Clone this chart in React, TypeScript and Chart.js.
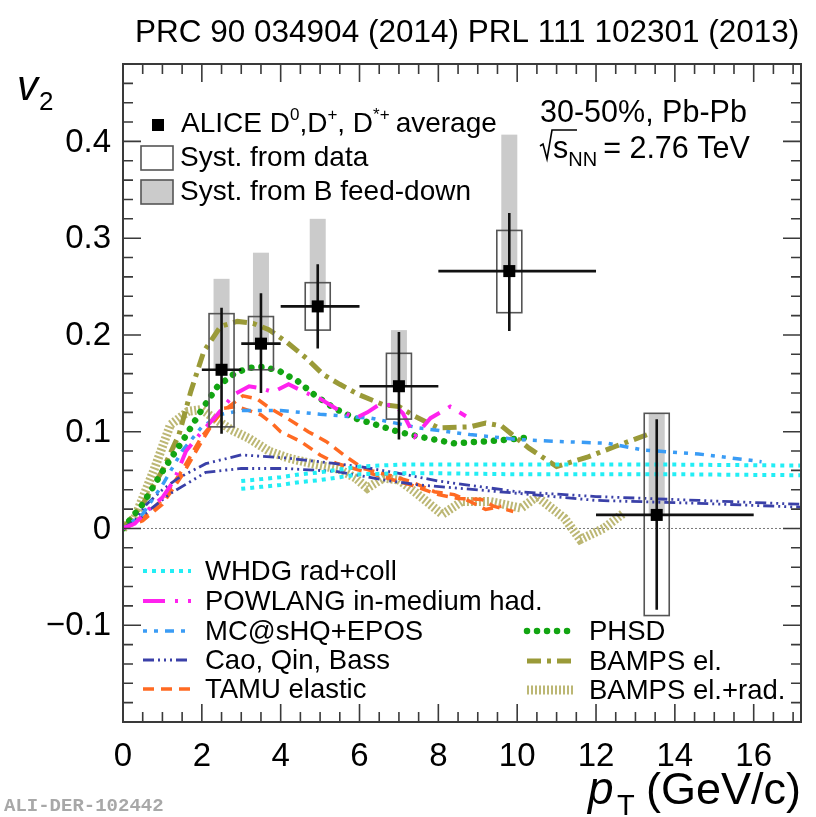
import React, { useEffect, useRef } from "react";
import { Chart, registerables } from "chart.js";

Chart.register(...registerables);

const FONT = '"Liberation Sans", Arial, Helvetica, sans-serif';

// Axis ticks and labels
const xTickValues = [0, 2, 4, 6, 8, 10, 12, 14, 16];
const xTickLabels = ["0", "2", "4", "6", "8", "10", "12", "14", "16"];
const yTickValues = [-0.1, 0, 0.1, 0.2, 0.3, 0.4];
const yTickLabels = ["\u22120.1", "0", "0.1", "0.2", "0.3", "0.4"];

// ALICE D0, D+, D*+ average v2 (30-50%)
const alicePt = [2.5, 3.5, 4.94, 7.0, 9.8, 13.54];
const aliceV2 = [0.164, 0.191, 0.2295, 0.147, 0.266, 0.014];
const alicePtLow = [2, 3, 4, 6, 8, 12];
const alicePtHigh = [3, 4, 6, 8, 12, 16];
const aliceStatHigh = [0.228, 0.243, 0.273, 0.203, 0.326, 0.113];
const aliceStatLow = [0.098, 0.14, 0.186, 0.092, 0.204, -0.084];
const aliceSystHigh = [0.222, 0.219, 0.254, 0.181, 0.308, 0.119];
const aliceSystLow = [0.105, 0.164, 0.205, 0.113, 0.223, -0.09];
const aliceFeedDownHigh = [0.258, 0.285, 0.32, 0.205, 0.407, 0.119];

// Model curves
const whdgUpperPt = [3.0, 3.5, 4.0, 4.5, 5.0, 5.5, 6.0, 7.0, 8.0, 10, 12, 14, 17.2];
const whdgUpperV2 = [0.049, 0.051, 0.053, 0.056, 0.058, 0.061, 0.064, 0.066, 0.066, 0.066, 0.066, 0.066, 0.065];
const whdgLowerPt = [3.0, 3.5, 4.0, 4.5, 5.0, 5.5, 6.0, 7.0, 8.0, 10, 12, 14, 17.2];
const whdgLowerV2 = [0.041, 0.043, 0.045, 0.048, 0.05, 0.053, 0.056, 0.057, 0.057, 0.056, 0.056, 0.056, 0.055];

const powlangPt = [0, 0.3, 0.6, 1.0, 1.3, 1.6, 2.0, 2.4, 2.8, 3.2, 3.5, 3.8, 4.2, 4.6, 5.0, 5.4, 5.9, 6.2, 6.5, 6.9, 7.1, 7.4, 7.8, 8.3, 8.7];
const powlangV2 = [0, 0.005, 0.018, 0.032, 0.05, 0.08, 0.1, 0.118, 0.138, 0.147, 0.145, 0.141, 0.149, 0.141, 0.134, 0.124, 0.114, 0.12, 0.128, 0.127, 0.119, 0.095, 0.114, 0.126, 0.116];

const mcshqPt = [0, 0.5, 1.0, 1.5, 2.0, 2.5, 3.0, 4.0, 5.0, 6.3, 7.5, 8.8, 10, 11, 12.3, 13.2, 14.6, 16.2];
const mcshqV2 = [0, 0.015, 0.045, 0.08, 0.105, 0.118, 0.122, 0.122, 0.118, 0.114, 0.104, 0.097, 0.092, 0.09, 0.088, 0.081, 0.077, 0.069];

const caoUpperPt = [0, 0.3, 0.6, 1.0, 1.4, 2.1, 3.0, 4.1, 5.3, 6.0, 7.0, 8.0, 10, 12, 14.6, 17.2];
const caoUpperV2 = [0, 0.008, 0.025, 0.04, 0.052, 0.067, 0.076, 0.073, 0.0675, 0.064, 0.057, 0.049, 0.038, 0.033, 0.029, 0.025];
const caoLowerPt = [0, 0.3, 0.7, 1.2, 2.1, 3.0, 4.1, 5.4, 6.7, 7.5, 8.4, 10.1, 12, 14.6, 17.2];
const caoLowerV2 = [0, 0.006, 0.02, 0.036, 0.058, 0.062, 0.062, 0.059, 0.0496, 0.045, 0.042, 0.036, 0.029, 0.026, 0.022];

const tamuUpperPt = [0, 0.5, 1.0, 1.5, 2.0, 2.5, 3.04, 3.4, 3.7, 4.2, 4.7, 5.15, 5.7, 6.1, 6.7, 7.3, 7.9, 8.4, 8.8, 9.2, 9.6];
const tamuUpperV2 = [0, 0.01, 0.03, 0.06, 0.095, 0.12, 0.137, 0.134, 0.125, 0.113, 0.1, 0.09, 0.073, 0.062, 0.0555, 0.0486, 0.038, 0.035, 0.028, 0.0196, 0.023];
const tamuLowerPt = [0, 0.5, 1.0, 1.5, 2.0, 2.5, 2.9, 3.5, 3.8, 4.0, 4.5, 5.0, 5.4, 6.1, 6.7, 7.3, 8.0, 8.5, 9.1, 9.4, 9.9];
const tamuLowerV2 = [0, 0.008, 0.025, 0.055, 0.09, 0.124, 0.126, 0.1175, 0.108, 0.1, 0.09, 0.076, 0.0675, 0.059, 0.052, 0.045, 0.035, 0.031, 0.03, 0.023, 0.0176];

const phsdPt = [0, 0.5, 1.0, 1.55, 1.97, 2.4, 2.84, 3.2, 3.6, 4.0, 4.44, 4.86, 5.37, 5.88, 6.4, 6.98, 7.5, 8.4, 9.2, 10.1, 10.4];
const phsdV2 = [0, 0.025, 0.059, 0.093, 0.121, 0.147, 0.1605, 0.166, 0.167, 0.162, 0.152, 0.138, 0.124, 0.114, 0.1075, 0.1, 0.095, 0.088, 0.09, 0.093, 0.095];

const bampsElPt = [0, 0.5, 1.0, 1.42, 1.72, 2.05, 2.48, 2.9, 3.3, 3.7, 4.14, 4.65, 5.08, 5.5, 6.0, 6.6, 7.0, 7.4, 8.0, 8.8, 9.2, 9.6, 10.3, 11.0, 11.8, 12.5, 13.3];
const bampsElV2 = [0, 0.025, 0.06, 0.097, 0.1416, 0.183, 0.209, 0.214, 0.212, 0.2055, 0.193, 0.176, 0.159, 0.149, 0.138, 0.128, 0.126, 0.116, 0.104, 0.105, 0.109, 0.106, 0.083, 0.064, 0.074, 0.085, 0.097];

const bampsRadPt = [0, 0.3, 0.8, 1.2, 1.65, 2.0, 2.3, 2.75, 3.2, 3.7, 4.2, 4.9, 5.5, 5.9, 6.2, 6.6, 7.0, 7.4, 8.1, 8.6, 9.3, 10.1, 10.5, 11.2, 11.6, 12.2, 12.7];
const bampsRadV2 = [0, 0.011, 0.062, 0.107, 0.121, 0.123, 0.114, 0.102, 0.093, 0.08, 0.0727, 0.066, 0.061, 0.052, 0.0417, 0.052, 0.05, 0.038, 0.0145, 0.028, 0.028, 0.021, 0.033, 0.0106, -0.0115, 0.0003, 0.0158];

const pts = (xs: number[], ys: number[]) => xs.map((x, i) => ({ x, y: ys[i] }));

type Run = { t: string; size: number; dy?: number; italic?: boolean; gap?: number };

function drawRuns(ctx: CanvasRenderingContext2D, x: number, y: number, runs: Run[]) {
  let cx = x;
  for (const r of runs) {
    ctx.font = `${r.italic ? "italic " : ""}${r.size}px ${FONT}`;
    ctx.fillText(r.t, cx, y + (r.dy || 0));
    cx += ctx.measureText(r.t).width + (r.gap || 0);
  }
  return cx;
}

export default function App() {
  const ref = useRef<HTMLCanvasElement | null>(null);

  useEffect(() => {
    const canvas = ref.current;
    if (!canvas) return;

    const curve = (label: string, data: { x: number; y: number }[], color: string, width: number, dash: number[], cap: CanvasLineCap = "butt") => ({
      label,
      data,
      showLine: true,
      borderColor: color,
      backgroundColor: color,
      borderWidth: width,
      borderDash: dash,
      borderCapStyle: cap,
      pointRadius: 0,
      tension: 0,
      fill: false,
    });

    const datasets: any[] = [
      {
        label: "ALICE D0,D+, D*+ average",
        data: pts(alicePt, aliceV2),
        showLine: false,
        pointStyle: "rect",
        pointRadius: 8.5,
        backgroundColor: "#000",
        borderColor: "#000",
        borderWidth: 0,
      },
      curve("WHDG rad+coll", pts(whdgUpperPt, whdgUpperV2), "#22eef5", 4, [4, 5]),
      curve("WHDG lower", pts(whdgLowerPt, whdgLowerV2), "#22eef5", 4, [4, 5]),
      curve("POWLANG in-medium had.", pts(powlangPt, powlangV2), "#ff22ee", 4, [22, 10, 3, 10]),
      curve("MC@sHQ+EPOS", pts(mcshqPt, mcshqV2), "#3a9cf5", 3.5, [4, 7, 4, 7, 9, 7]),
      curve("Cao, Qin, Bass", pts(caoUpperPt, caoUpperV2), "#3a40a8", 2.8, [11, 4, 2, 4, 2, 4, 2, 4]),
      curve("Cao lower", pts(caoLowerPt, caoLowerV2), "#3a40a8", 2.8, [11, 4, 2, 4, 2, 4, 2, 4]),
      curve("TAMU elastic", pts(tamuUpperPt, tamuUpperV2), "#ff6a22", 3.5, [11, 7]),
      curve("TAMU lower", pts(tamuLowerPt, tamuLowerV2), "#ff6a22", 3.5, [11, 7]),
      curve("PHSD", pts(phsdPt, phsdV2), "#12a512", 6.5, [0.01, 10], "round"),
      curve("BAMPS el.", pts(bampsElPt, bampsElV2), "#9a9a38", 5, [14, 6, 4, 6]),
      curve("BAMPS el.+rad.", pts(bampsRadPt, bampsRadV2), "#bcb774", 9, [2, 2]),
    ];

    const leftLegend = [1, 3, 4, 5, 7];
    const rightLegend = [9, 10, 11];

    const framePlugin = {
      id: "frame",
      beforeDatasetsDraw(chart: any) {
        const { ctx, chartArea: a, scales } = chart;
        const xs = scales.x, ys = scales.y;
        ctx.save();
        // zero line
        ctx.strokeStyle = "#777";
        ctx.lineWidth = 1;
        ctx.setLineDash([2, 2]);
        const y0 = ys.getPixelForValue(0);
        ctx.beginPath();
        ctx.moveTo(a.left, y0);
        ctx.lineTo(a.right, y0);
        ctx.stroke();
        ctx.setLineDash([]);
        // B feed-down systematics
        ctx.fillStyle = "#cbcbcb";
        for (let i = 0; i < alicePt.length; i++) {
          const px = xs.getPixelForValue(alicePt[i]);
          const top = ys.getPixelForValue(aliceFeedDownHigh[i]);
          const bot = ys.getPixelForValue(aliceV2[i]);
          ctx.fillRect(px - 8, top, 16, bot - top);
        }
        ctx.restore();
      },
      beforeDatasetDraw(chart: any, args: any) {
        if (args.index !== 0) return;
        const { ctx, scales } = chart;
        const xs = scales.x, ys = scales.y;
        ctx.save();
        for (let i = 0; i < alicePt.length; i++) {
          const px = xs.getPixelForValue(alicePt[i]);
          const py = ys.getPixelForValue(aliceV2[i]);
          const st = ys.getPixelForValue(aliceSystHigh[i]);
          const sb = ys.getPixelForValue(aliceSystLow[i]);
          ctx.strokeStyle = "#555";
          ctx.lineWidth = 1.6;
          ctx.strokeRect(px - 12.5, st, 25, sb - st);
          ctx.strokeStyle = "#111";
          ctx.lineWidth = 2.6;
          ctx.beginPath();
          ctx.moveTo(xs.getPixelForValue(alicePtLow[i]), py);
          ctx.lineTo(xs.getPixelForValue(alicePtHigh[i]), py);
          ctx.moveTo(px, ys.getPixelForValue(aliceStatHigh[i]));
          ctx.lineTo(px, ys.getPixelForValue(aliceStatLow[i]));
          ctx.stroke();
        }
        ctx.restore();
      },
      afterDraw(chart: any) {
        const { ctx, chartArea: a, scales } = chart;
        const xs = scales.x, ys = scales.y;
        ctx.save();
        // frame
        ctx.strokeStyle = "#3a3a3a";
        ctx.lineWidth = 2;
        ctx.strokeRect(a.left, a.top, a.right - a.left, a.bottom - a.top);
        // ticks
        ctx.lineWidth = 1.6;
        ctx.beginPath();
        for (let k = 0; k <= 34; k++) {
          const v = k * 0.5;
          if (v > xs.max) break;
          const px = xs.getPixelForValue(v);
          const len = k % 4 === 0 ? 18 : 10;
          ctx.moveTo(px, a.bottom);
          ctx.lineTo(px, a.bottom - len);
          ctx.moveTo(px, a.top);
          ctx.lineTo(px, a.top + len);
        }
        for (let k = -10; k <= 24; k++) {
          const v = k * 0.02;
          if (v < ys.min - 1e-9 || v > ys.max + 1e-9) continue;
          const py = ys.getPixelForValue(v);
          const len = k % 5 === 0 ? 18 : 10;
          ctx.moveTo(a.left, py);
          ctx.lineTo(a.left + len, py);
          ctx.moveTo(a.right, py);
          ctx.lineTo(a.right - len, py);
        }
        ctx.stroke();

        // tick labels
        ctx.fillStyle = "#000";
        ctx.font = `33px ${FONT}`;
        ctx.textAlign = "center";
        ctx.textBaseline = "alphabetic";
        xTickValues.forEach((v, i) => {
          ctx.fillText(xTickLabels[i], xs.getPixelForValue(v), 766);
        });
        ctx.textAlign = "right";
        ctx.textBaseline = "middle";
        yTickValues.forEach((v, i) => {
          ctx.fillText(yTickLabels[i], a.left - 12, ys.getPixelForValue(v) + 1);
        });

        // axis titles
        ctx.textAlign = "left";
        ctx.textBaseline = "alphabetic";
        drawRuns(ctx, 588, 804, [{ t: "p", size: 46, italic: true }]);
        drawRuns(ctx, 617, 815, [{ t: "T", size: 29 }]);
        drawRuns(ctx, 646, 804, [{ t: "(GeV/c)", size: 45 }]);
        drawRuns(ctx, 17, 100, [{ t: "v", size: 42, italic: true }]);
        drawRuns(ctx, 39, 110, [{ t: "2", size: 26 }]);

        // header
        ctx.font = `31.5px ${FONT}`;
        ctx.fillText("PRC 90 034904 (2014) PRL 111 102301 (2013)", 135, 42, 666);

        // watermark
        ctx.fillStyle = "#a8a8a8";
        ctx.font = `bold 19px "Liberation Mono", "DejaVu Sans Mono", monospace`;
        ctx.fillText("ALI-DER-102442", 4, 811, 162);

        // data legend
        ctx.fillStyle = "#000";
        ctx.fillRect(152, 119, 12, 12);
        drawRuns(ctx, 181, 132, [
          { t: "ALICE D", size: 28 },
          { t: "0", size: 17, dy: -12 },
          { t: ",D", size: 28 },
          { t: "+", size: 17, dy: -12 },
          { t: ", D", size: 28 },
          { t: "*+", size: 17, dy: -12, gap: 6 },
          { t: "average", size: 28 },
        ]);
        ctx.strokeStyle = "#555";
        ctx.lineWidth = 1.6;
        ctx.strokeRect(141, 146, 32, 24);
        ctx.fillStyle = "#cbcbcb";
        ctx.fillRect(141, 180, 32, 24);
        ctx.strokeRect(141, 180, 32, 24);
        ctx.fillStyle = "#000";
        drawRuns(ctx, 180, 166, [{ t: "Syst. from data", size: 28 }]);
        drawRuns(ctx, 180, 200, [{ t: "Syst. from B feed-down", size: 28 }]);

        // collision system
        drawRuns(ctx, 540, 122, [{ t: "30-50%, Pb-Pb", size: 30.5 }]);
        const sx = 540, sb = 158;
        ctx.strokeStyle = "#000";
        ctx.lineWidth = 1.6;
        ctx.beginPath();
        ctx.moveTo(sx, sb - 12);
        ctx.lineTo(sx + 3, sb - 14);
        ctx.lineTo(sx + 7, sb + 1);
        ctx.lineTo(sx + 12, sb - 28);
        ctx.lineTo(sx + 37, sb - 28);
        ctx.stroke();
        drawRuns(ctx, sx + 13, sb, [
          { t: "s", size: 30.5 },
          { t: "NN", size: 20, dy: 8, gap: 6 },
          { t: "= 2.76 TeV", size: 30.5 },
        ]);

        // model legend
        const drawEntry = (idx: number, x0: number, y: number, textX: number, label: string) => {
          const ds = chart.data.datasets[idx];
          ctx.save();
          ctx.strokeStyle = ds.borderColor;
          ctx.lineWidth = ds.borderWidth;
          ctx.setLineDash(ds.borderDash || []);
          ctx.lineCap = ds.borderCapStyle || "butt";
          ctx.beginPath();
          ctx.moveTo(x0, y);
          ctx.lineTo(x0 + 48, y);
          ctx.stroke();
          ctx.restore();
          ctx.fillStyle = "#000";
          ctx.font = `27.5px ${FONT}`;
          ctx.textBaseline = "middle";
          ctx.fillText(label, textX, y + 1);
          ctx.textBaseline = "alphabetic";
        };
        const rowsL = [571, 601, 631, 660, 689];
        leftLegend.forEach((idx, i) => drawEntry(idx, 143, rowsL[i], 205, chart.data.datasets[idx].label));
        const rowsR = [631, 661, 690];
        rightLegend.forEach((idx, i) => drawEntry(idx, 527, rowsR[i], 589, chart.data.datasets[idx].label));
        ctx.restore();
      },
    };

    const chart = new Chart(canvas, {
      type: "scatter",
      data: { datasets },
      options: {
        animation: false,
        responsive: false,
        maintainAspectRatio: false,
        devicePixelRatio: 1,
        layout: { padding: { left: 0, top: 64, right: 15, bottom: 0 } },
        plugins: { legend: { display: false }, tooltip: { enabled: false } },
        scales: {
          x: {
            type: "linear",
            min: 0,
            max: 17.2,
            grid: { display: false, drawTicks: false },
            border: { display: false },
            ticks: { display: false },
            afterFit: (s: any) => {
              s.height = 95;
            },
          },
          y: {
            type: "linear",
            min: -0.2,
            max: 0.48,
            grid: { display: false, drawTicks: false },
            border: { display: false },
            ticks: { display: false },
            afterFit: (s: any) => {
              s.width = 123;
            },
          },
        },
      } as any,
      plugins: [framePlugin],
    });

    return () => chart.destroy();
  }, []);

  return (
    <div style={{ position: "fixed", left: 0, top: 0, width: 816, height: 817, background: "#fff" }}>
      <canvas ref={ref} width={816} height={817} style={{ display: "block", width: 816, height: 817 }} />
    </div>
  );
}
